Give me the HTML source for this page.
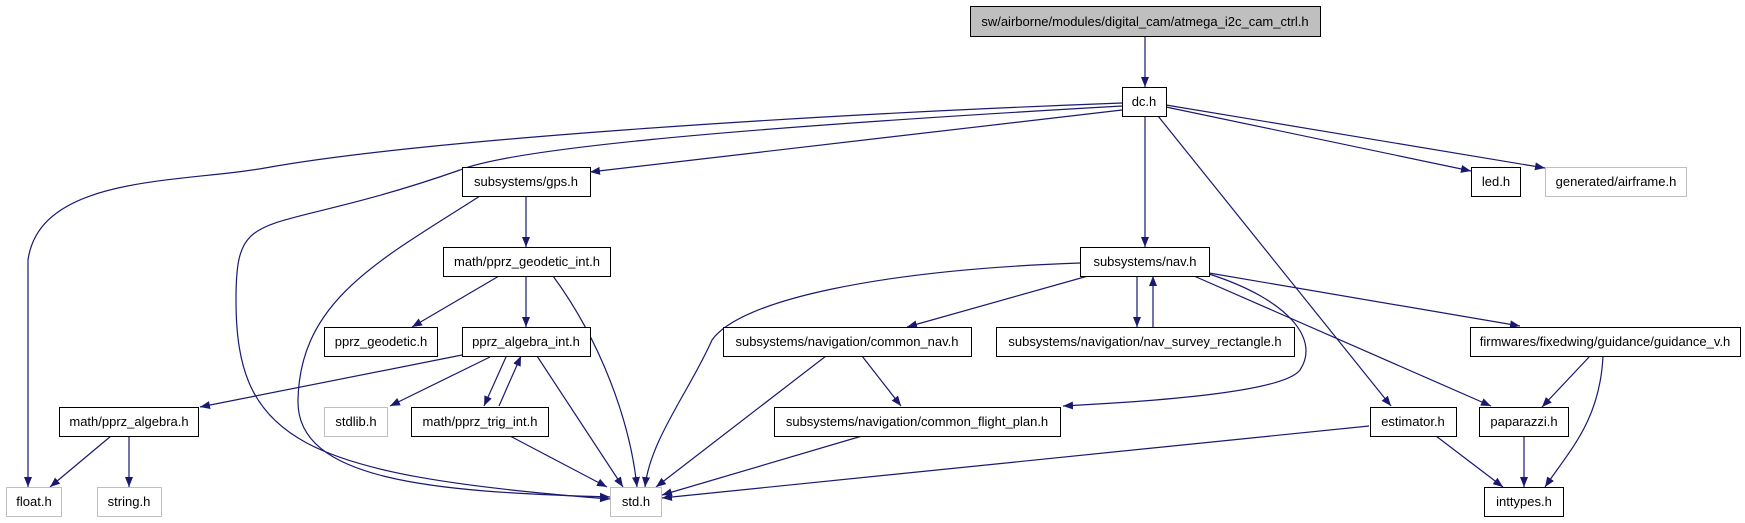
<!DOCTYPE html>
<html><head><meta charset="utf-8"><style>
body{margin:0;background:#fff}
svg{display:block}
text{font-family:"Liberation Sans",sans-serif;font-size:13px;fill:#000}
</style></head><body>
<svg width="1745" height="523" viewBox="0 0 1745 523" xmlns="http://www.w3.org/2000/svg">
<defs><marker id="a" viewBox="0 0 10 10" refX="10" refY="5" markerWidth="10" markerHeight="10" markerUnits="userSpaceOnUse" orient="auto"><path d="M0,1 L10,5 L0,9 z" fill="#191970"/></marker></defs>
<g fill="none" stroke="#191970" stroke-width="1.2" marker-end="url(#a)">
<path d="M1145,36 L1145,87"/>
<path d="M1122,103 C800,115 420,140 265,168 C180,183 40,175 28,260 L28,487"/>
<path d="M1122,106 C700,130 510,150 460,170 C260,240 236,200 236,300 C236,440 300,475 610,499"/>
<path d="M480,196 C380,260 300,300 298,400 C296,480 430,492 610,497"/>
<path d="M1122,110 L590,172"/>
<path d="M1145,116 L1145,247"/>
<path d="M1166,107 L1471,171"/>
<path d="M1166,105 L1545,168"/>
<path d="M1158,116 L1391,406"/>
<path d="M526,196 L526,247"/>
<path d="M499,276 L412,327"/>
<path d="M526,276 L526,327"/>
<path d="M553,276 C600,340 630,420 637,487"/>
<path d="M462,355 L200,407"/>
<path d="M490,357 L390,406"/>
<path d="M506,357 L484,406"/>
<path d="M499,406 L521,356"/>
<path d="M537,356 L623,487"/>
<path d="M111,436 L50,487"/>
<path d="M129,436 L129,487"/>
<path d="M510,436 L607,487"/>
<path d="M1080,263 C880,270 740,300 712,340 C690,390 650,440 645,487"/>
<path d="M1088,276 L907,327"/>
<path d="M1137,276 L1137,327"/>
<path d="M1153,327 L1153,276"/>
<path d="M1209,273 L1520,326"/>
<path d="M1194,276 L1491,406"/>
<path d="M1209,274 C1290,300 1320,340 1300,370 C1285,390 1180,400 1063,406"/>
<path d="M826,356 L656,487"/>
<path d="M862,356 L901,406"/>
<path d="M862,436 L662,495"/>
<path d="M1369,426 L662,498"/>
<path d="M1436,436 L1503,487"/>
<path d="M1590,356 L1542,407"/>
<path d="M1603,356 C1600,420 1570,450 1545,487"/>
<path d="M1524,436 L1524,487"/>
</g>
<g stroke-width="1">
<rect x="970.5" y="6.5" width="350" height="30" fill="#bfbfbf" stroke="#000"/>
<g fill="#fff" stroke="#000">
<rect x="1122.5" y="87.5" width="44" height="29"/>
<rect x="462.5" y="167.5" width="128" height="29"/>
<rect x="1471.5" y="167.5" width="49" height="29"/>
<rect x="443.5" y="247.5" width="167" height="29"/>
<rect x="1080.5" y="247.5" width="129" height="29"/>
<rect x="324.5" y="327.5" width="113" height="29"/>
<rect x="462.5" y="327.5" width="128" height="29"/>
<rect x="723.5" y="327.5" width="248" height="29"/>
<rect x="996.5" y="327.5" width="298" height="29"/>
<rect x="1470.5" y="327.5" width="270" height="29"/>
<rect x="59.5" y="407.5" width="139" height="29"/>
<rect x="411.5" y="407.5" width="137" height="29"/>
<rect x="774.5" y="407.5" width="286" height="29"/>
<rect x="1370.5" y="407.5" width="86" height="29"/>
<rect x="1479.5" y="407.5" width="89" height="29"/>
<rect x="1484.5" y="487.5" width="79" height="29"/>
</g>
<g fill="#fff" stroke="#bfbfbf">
<rect x="1545.5" y="167.5" width="141" height="29"/>
<rect x="324.5" y="407.5" width="63" height="29"/>
<rect x="6.5" y="487.5" width="55" height="29"/>
<rect x="97.5" y="487.5" width="64" height="29"/>
<rect x="610.5" y="487.5" width="51" height="29"/>
</g>
</g>
<g text-anchor="middle">
<text x="1145" y="26">sw/airborne/modules/digital_cam/atmega_i2c_cam_ctrl.h</text>
<text x="1144" y="106">dc.h</text>
<text x="526" y="186">subsystems/gps.h</text>
<text x="1496" y="186">led.h</text>
<text x="1616" y="186">generated/airframe.h</text>
<text x="527" y="266">math/pprz_geodetic_int.h</text>
<text x="1145" y="266">subsystems/nav.h</text>
<text x="381" y="346">pprz_geodetic.h</text>
<text x="526" y="346">pprz_algebra_int.h</text>
<text x="847" y="346">subsystems/navigation/common_nav.h</text>
<text x="1145" y="346">subsystems/navigation/nav_survey_rectangle.h</text>
<text x="1605" y="346">firmwares/fixedwing/guidance/guidance_v.h</text>
<text x="129" y="426">math/pprz_algebra.h</text>
<text x="356" y="426">stdlib.h</text>
<text x="480" y="426">math/pprz_trig_int.h</text>
<text x="917" y="426">subsystems/navigation/common_flight_plan.h</text>
<text x="1413" y="426">estimator.h</text>
<text x="1524" y="426">paparazzi.h</text>
<text x="34" y="506">float.h</text>
<text x="129" y="506">string.h</text>
<text x="636" y="506">std.h</text>
<text x="1524" y="506">inttypes.h</text>
</g>
</svg>
</body></html>
